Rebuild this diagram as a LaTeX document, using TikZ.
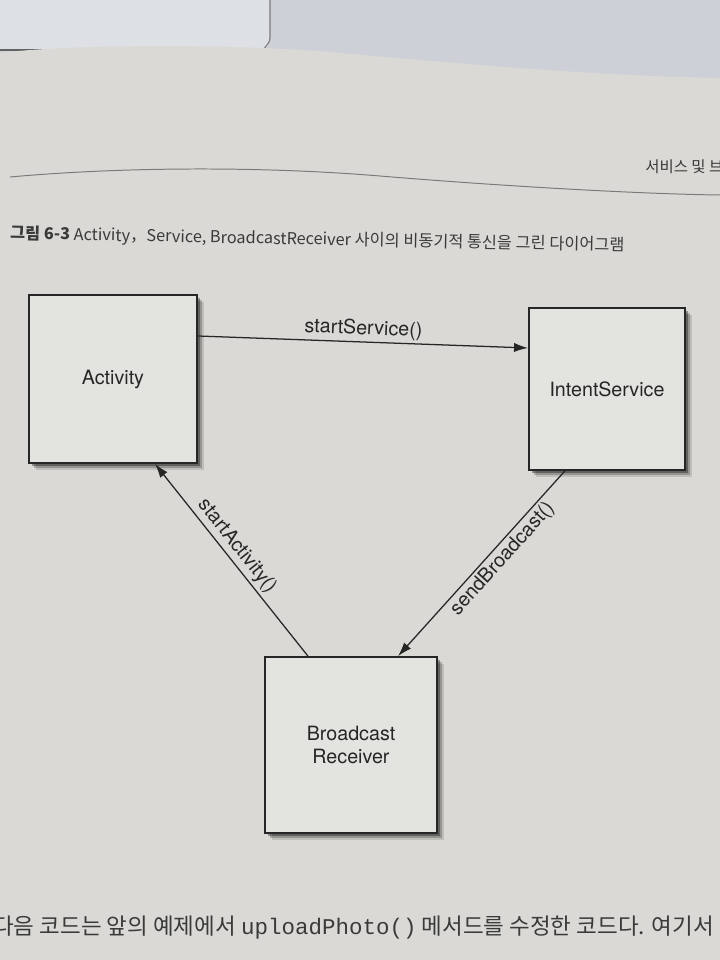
\documentclass[tikz,border=0pt]{standalone}
\usepackage{fontspec}
\setmainfont{TeX Gyre Heros}
\newfontfamily\krfont{Noto Sans CJK KR}
\newfontfamily\codefont{Liberation Mono}
\usetikzlibrary{arrows.meta}
\definecolor{desk}{HTML}{CDD0D7}
\definecolor{sheet}{HTML}{DDE0E4}
\definecolor{paper}{HTML}{DAD9D5}
\definecolor{boxfill}{HTML}{E3E3E0}
\definecolor{ink}{HTML}{262626}
\definecolor{capgrey}{HTML}{3A3A3A}
\definecolor{rulegrey}{HTML}{7A7A7A}

\begin{document}
\begin{tikzpicture}[
    x=0.025cm, y=-0.025cm,
    block/.style={
        draw=ink, line width=1.2pt, fill=boxfill,
        font=\fontsize{14}{16.5}\selectfont, text=ink, align=center,
        preaction={fill=black, opacity=0.12, transform canvas={xshift=5pt, yshift=-5pt}},
        preaction={fill=black, opacity=0.22, transform canvas={xshift=3.4pt, yshift=-3.4pt}},
        preaction={fill=black, opacity=0.35, transform canvas={xshift=1.8pt, yshift=-1.8pt}},
    },
    arr/.style={-{Latex[length=10pt,width=6.5pt]}, line width=0.9pt, draw=ink},
    lbl/.style={font=\fontsize{14}{16}\selectfont, text=ink, inner sep=2pt},
    pagetext/.style={text=capgrey, inner sep=0pt},
]
\useasboundingbox (0,0) rectangle (720,960);

% ════════════════════════════════════════
% Photo background: desk, sheet, page
% ════════════════════════════════════════
\fill[desk] (0,0) rectangle (720,960);
\fill[sheet] (0,0) -- (270,0) -- (270,38) to[out=-90,in=0] (262,49) -- (0,49) -- cycle;
\draw[rulegrey, line width=0.8pt] (270,0) -- (270,38) to[out=-90,in=60] (264,49);
\draw[rulegrey!80!black, line width=1pt] (0,50) -- (62,50);
\fill[paper] (0,53) .. controls (60,45) and (220,43) .. (330,52)
    .. controls (460,64) and (600,76) .. (720,78) -- (720,960) -- (0,960) -- cycle;

% ════════════════════════════════════════
% Running head and caption
% ════════════════════════════════════════
\draw[rulegrey, line width=0.7pt] (10,177) .. controls (120,167) and (260,166) .. (380,176)
    .. controls (500,186) and (640,194) .. (720,195);
\node[pagetext, anchor=west, font=\krfont\fontsize{11}{13}\selectfont] (header) at (645,167) {서비스 및 브로드캐스트};

\node[pagetext, anchor=west, rotate=-1.1, font=\krfont\fontsize{11.6}{13}\selectfont] (caption) at (10,234)
    {\textbf{그림 6-3} Activity，Service, BroadcastReceiver 사이의 비동기적 통신을 그린 다이어그램};

% ════════════════════════════════════════
% Components
% ════════════════════════════════════════
\node[block, minimum width=4.2cm, minimum height=4.2cm] (act) at (113,379) {Activity};
\node[block, minimum width=3.9cm, minimum height=4.05cm] (svc) at (607,389) {IntentService};
\node[block, minimum width=4.3cm, minimum height=4.4cm] (recv) at (351,745) {Broadcast\\Receiver};

% ════════════════════════════════════════
% Calls between components
% ════════════════════════════════════════
\draw[arr] ([yshift=1.075cm]act.east) -- ([yshift=1.025cm]svc.west)
    node[midway, sloped, above, lbl] {startService()};
\draw[arr] ([xshift=-1.05cm]svc.south) -- ([xshift=1.175cm]recv.north)
    node[pos=0.43, sloped, below, lbl] {sendBroadcast()};
\draw[arr] ([xshift=-1.075cm]recv.north) -- ([xshift=1.05cm]act.south)
    node[pos=0.53, sloped, above, lbl] {startActivity()};

% ════════════════════════════════════════
% Body text below the figure
% ════════════════════════════════════════
\node[pagetext, anchor=west, font=\krfont\fontsize{16}{18}\selectfont] (body) at (-7,928)
    {다음 코드는 앞의 예제에서 {\codefont uploadPhoto()} 메서드를 수정한 코드다. 여기서};

\end{tikzpicture}
\end{document}
